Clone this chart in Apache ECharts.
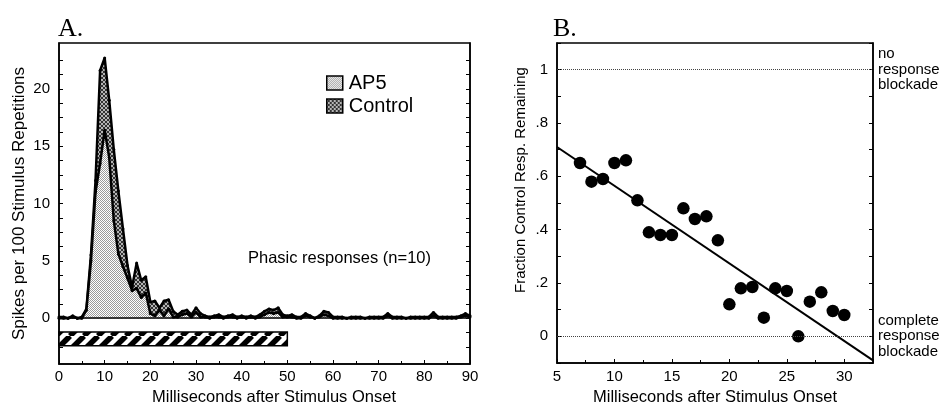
<!DOCTYPE html>
<html><head><meta charset="utf-8">
<script src="https://cdn.jsdelivr.net/npm/echarts@6/dist/echarts.min.js"></script>
<style>html,body{margin:0;padding:0;background:#fff}#c{width:952px;height:406px}</style>
</head><body><div id="c"></div>
<script>
// ---------- Panel A data (1 ms bins, 0..90 ms) ----------
const binMs = [...Array(91).keys()];
const controlSpikes = [
 0.1,0.1,0.0,0.2,0.0,0.1,0.8,5.5,12.0,21.6,
 22.7,19.0,14.7,11.1,7.8,4.6,2.7,4.8,3.3,3.6,
 1.4,1.5,0.9,1.5,1.6,0.6,0.3,0.6,0.7,0.3,
 0.9,0.4,0.2,0.1,0.2,0.3,0.1,0.2,0.3,0.1,
 0.2,0.1,0.2,0.1,0.3,0.6,0.8,0.7,0.9,0.3,
 0.2,0.3,0.1,0.1,0.4,0.2,0.0,0.2,0.6,0.5,
 0.1,0.1,0.1,0.0,0.1,0.1,0.1,0.0,0.1,0.1,
 0.1,0.1,0.4,0.1,0.1,0.1,0.0,0.1,0.1,0.1,
 0.1,0.1,0.5,0.1,0.1,0.1,0.1,0.1,0.2,0.4,0.2];
const ap5Spikes = [
 0.0,0.0,0.0,0.1,0.0,0.0,0.7,5.0,11.0,13.5,
 16.4,14.0,8.5,5.6,4.5,3.5,2.4,2.6,1.8,2.2,
 0.4,0.2,0.7,0.2,0.8,0.1,0.1,0.3,0.4,0.1,
 0.5,0.1,0.1,0.0,0.1,0.1,0.0,0.1,0.1,0.0,
 0.1,0.0,0.1,0.0,0.1,0.3,0.5,0.4,0.5,0.1,
 0.1,0.1,0.0,0.0,0.2,0.1,0.0,0.1,0.3,0.2,
 0.0,0.0,0.0,0.0,0.0,0.0,0.0,0.0,0.0,0.0,
 0.0,0.0,0.2,0.0,0.0,0.0,0.0,0.0,0.0,0.0,
 0.0,0.0,0.2,0.0,0.0,0.0,0.0,0.0,0.1,0.2,0.1];
const stimulusMs = [0, 50];
const yLabelsA = [0, 5, 10, 15, 20];

// ---------- Panel B data ----------
const delayMs = [7,8,9,10,11,12,13,14,15,16,17,18,19,20,21,22,23,24,25,26,27,28,29,30];
const fractionRemaining = [0.65,0.58,0.59,0.65,0.66,0.51,0.39,0.38,0.38,0.48,0.44,0.45,0.36,0.12,0.18,0.185,0.07,0.18,0.17,0.0,0.13,0.165,0.095,0.08];
const fitMs = [5, 32.5];
const fitFraction = [0.71, -0.09];
const yLabelsB = [0, 0.2, 0.4, 0.6, 0.8, 1];
const refLevels = [1, 0];
const refLabels = ['no\nresponse\nblockade', 'complete\nresponse\nblockade'];

// ---------- patterns ----------
function makePattern(size, draw) {
  const c = document.createElement('canvas');
  c.width = c.height = size;
  draw(c.getContext('2d'), size);
  return { image: c, repeat: 'repeat' };
}
const ap5Pattern = makePattern(2, (g) => {
  g.fillStyle = '#ffffff'; g.fillRect(0, 0, 2, 2);
  g.fillStyle = '#9a9a9a'; g.fillRect(0, 0, 1, 1); g.fillRect(1, 1, 1, 1);
});
const controlPattern = makePattern(4, (g) => {
  g.fillStyle = '#b4b4b4'; g.fillRect(0, 0, 4, 4);
  g.fillStyle = '#333333';
  for (let i = 0; i < 4; i++) { g.fillRect(i, i, 1, 1); g.fillRect(3 - i, i, 1, 1); }
});
const stripePattern = makePattern(14, (g, s) => {
  g.fillStyle = '#ffffff'; g.fillRect(0, 0, s, s);
  g.strokeStyle = '#000'; g.lineWidth = 5.5;
  [-s, 0, s].forEach((x0) => { g.beginPath(); g.moveTo(x0, s); g.lineTo(x0 + s, 0); g.stroke(); });
});

const FONT = 'Liberation Sans';
const tickA = []; for (let v = -2.5; v <= 23; v += 1.25) tickA.push(v);
const tickB = []; for (let k = -1; k <= 11; k++) tickB.push(Math.round(k * 10) / 100);
const axisLineStyle = { lineStyle: { color: '#000', width: 1.5 } };
const labelStyle = { color: '#000', fontSize: 15, fontFamily: FONT };
const fmtB = (v) => (v === 0 ? '0' : v === 1 ? '1' : String(v).replace('0.', '.'));

const chart = echarts.init(document.getElementById('c'), null, { renderer: 'canvas' });
chart.setOption({
  animation: false,
  backgroundColor: '#fff',
  title: [
    { text: 'A.', left: 58, top: 16, padding: 0, textStyle: { fontFamily: 'Liberation Serif', fontSize: 26, fontWeight: 'normal', color: '#000' } },
    { text: 'B.', left: 553, top: 16, padding: 0, textStyle: { fontFamily: 'Liberation Serif', fontSize: 26, fontWeight: 'normal', color: '#000' } }
  ],
  legend: {
    left: 326, top: 73, orient: 'vertical', icon: 'rect', itemWidth: 16, itemHeight: 14, itemGap: 3,
    padding: 0, selectedMode: false,
    textStyle: { color: '#000', fontSize: 20, fontFamily: FONT, padding: [0, 0, 0, 1] },
    data: [
      { name: 'AP5', itemStyle: { color: ap5Pattern, borderColor: '#000', borderWidth: 1.5 } },
      { name: 'Control', itemStyle: { color: controlPattern, borderColor: '#000', borderWidth: 1.5 } }
    ]
  },
  grid: [
    { left: 59, right: 482, top: 43, bottom: 42, show: true, borderColor: '#000', borderWidth: 1.5, outerBoundsMode: 'none', containLabel: false },
    { left: 557, right: 79, top: 43, bottom: 43, show: true, borderColor: '#000', borderWidth: 1.5, outerBoundsMode: 'none', containLabel: false }
  ],
  xAxis: [
    { gridIndex: 0, type: 'value', min: 0, max: 90, interval: 10,
      axisLine: Object.assign({ onZero: false }, axisLineStyle),
      axisTick: { inside: true, length: 4, lineStyle: { color: '#000' } },
      minorTick: { show: true, splitNumber: 2, length: 3, lineStyle: { color: '#000' } },
      splitLine: { show: false },
      axisLabel: Object.assign({ margin: 5 }, labelStyle),
      name: 'Milliseconds after Stimulus Onset', nameLocation: 'middle', nameGap: 24,
      nameTextStyle: { color: '#000', fontSize: 16.5, fontFamily: FONT, padding: [0, 0, 0, 19] } },
    { gridIndex: 1, type: 'value', min: 5, max: 32.5, interval: 5,
      axisLine: Object.assign({ onZero: false }, axisLineStyle),
      axisTick: { inside: true, length: 4, lineStyle: { color: '#000' } },
      minorTick: { show: true, splitNumber: 2, length: 3, lineStyle: { color: '#000' } },
      splitLine: { show: false },
      axisLabel: Object.assign({ margin: 6, showMaxLabel: false }, labelStyle),
      name: 'Milliseconds after Stimulus Onset', nameLocation: 'middle', nameGap: 25,
      nameTextStyle: { color: '#000', fontSize: 16.5, fontFamily: FONT } }
  ],
  yAxis: [
    { gridIndex: 0, type: 'value', min: -4, max: 24, position: 'left',
      axisLine: Object.assign({ onZero: false }, axisLineStyle),
      axisTick: { inside: true, length: 4, customValues: tickA, lineStyle: { color: '#000' } },
      axisLabel: Object.assign({ margin: 9, customValues: yLabelsA }, labelStyle),
      splitLine: { show: false },
      name: 'Spikes per 100 Stimulus Repetitions', nameLocation: 'middle', nameGap: 31,
      nameTextStyle: { color: '#000', fontSize: 17, fontFamily: FONT } },
    { gridIndex: 0, type: 'value', min: -4, max: 24, position: 'right',
      axisLine: Object.assign({ onZero: false }, axisLineStyle),
      axisTick: { inside: true, length: 4, customValues: tickA, lineStyle: { color: '#000' } },
      axisLabel: { show: false }, splitLine: { show: false } },
    { gridIndex: 1, type: 'value', min: -0.1, max: 1.1, position: 'left',
      axisLine: Object.assign({ onZero: false }, axisLineStyle),
      axisTick: { inside: true, length: 4, customValues: tickB, lineStyle: { color: '#000' } },
      axisLabel: Object.assign({ margin: 9, customValues: yLabelsB, formatter: fmtB }, labelStyle),
      splitLine: { show: false },
      name: 'Fraction Control Resp. Remaining', nameLocation: 'middle', nameGap: 29,
      nameTextStyle: { color: '#000', fontSize: 15, fontFamily: FONT, padding: [0, 0, 0, 46] } },
    { gridIndex: 1, type: 'value', min: -0.1, max: 1.1, position: 'right',
      axisLine: Object.assign({ onZero: false }, axisLineStyle),
      axisTick: { inside: true, length: 4, customValues: tickB, lineStyle: { color: '#000' } },
      axisLabel: { show: false }, splitLine: { show: false } }
  ],
  graphic: [
    { type: 'text', left: 248, top: 250, silent: true,
      style: { text: 'Phasic responses (n=10)', font: '16.5px "Liberation Sans"', fill: '#000' } }
  ],
  series: [
    { type: 'line', name: 'Control', xAxisIndex: 0, yAxisIndex: 0, z: 2,
      data: binMs.map((t, i) => [t, controlSpikes[i]]),
      symbol: 'circle', symbolSize: 3, itemStyle: { color: '#000' },
      lineStyle: { color: '#000', width: 2.5 },
      areaStyle: { color: controlPattern, opacity: 1 },
      markLine: { silent: true, symbol: 'none', label: { show: false },
        lineStyle: { color: '#000', width: 1.5, type: 'solid' }, data: [{ yAxis: 0 }] } },
    { type: 'line', name: 'AP5', xAxisIndex: 0, yAxisIndex: 0, z: 3,
      data: binMs.map((t, i) => [t, ap5Spikes[i]]),
      symbol: 'circle', symbolSize: 3, itemStyle: { color: '#000' },
      lineStyle: { color: '#000', width: 2.5 },
      areaStyle: { color: ap5Pattern, opacity: 1 },
      markArea: { silent: true,
        itemStyle: { color: stripePattern, opacity: 1, borderColor: '#000', borderWidth: 1.5 },
        data: [[{ coord: [stimulusMs[0], -1.2] }, { coord: [stimulusMs[1], -2.4] }]] } },
    { type: 'line', name: 'Fit', xAxisIndex: 1, yAxisIndex: 2, z: 2,
      data: fitMs.map((x, i) => [x, fitFraction[i]]),
      symbol: 'none', lineStyle: { color: '#000', width: 2 },
      markLine: { silent: true, symbol: 'none',
        lineStyle: { color: '#444', width: 1, type: 'dotted' },
        label: { position: 'end', distance: 5, color: '#000', fontSize: 15, lineHeight: 15.5, fontFamily: FONT, align: 'left' },
        data: refLevels.map((v, i) => ({ yAxis: v, label: { formatter: refLabels[i] } })) } },
    { type: 'scatter', name: 'Fraction', xAxisIndex: 1, yAxisIndex: 2, z: 3,
      data: delayMs.map((x, i) => [x, fractionRemaining[i]]),
      symbol: 'circle', symbolSize: 12.5, itemStyle: { color: '#000', opacity: 1 } }
  ]
});
</script></body></html>
